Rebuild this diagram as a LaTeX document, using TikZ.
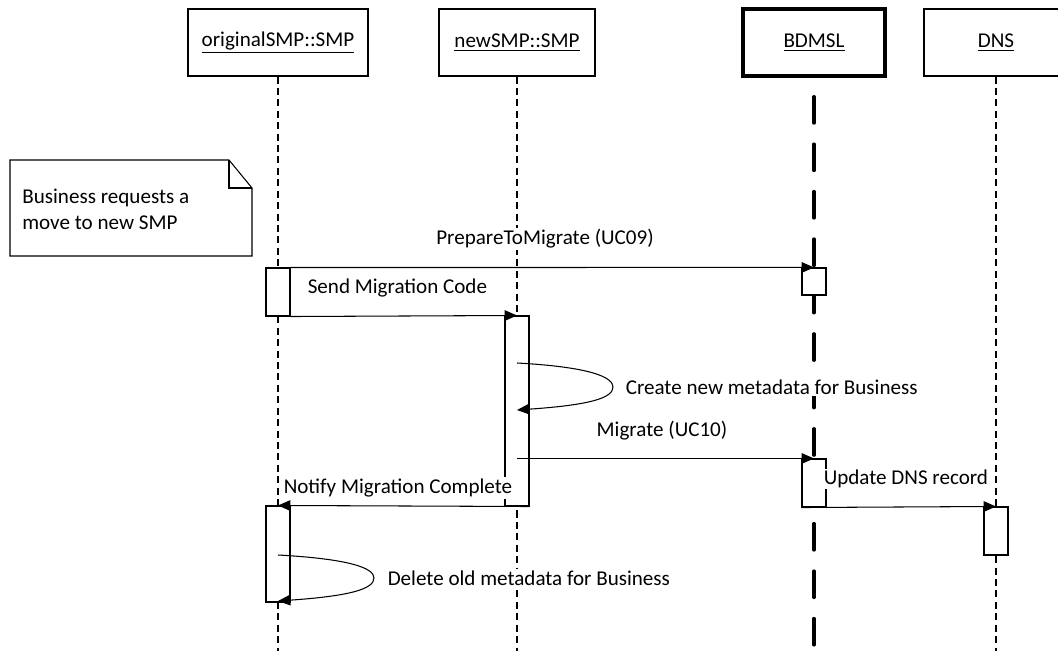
\documentclass[tikz,border=0pt]{standalone}
\usepackage{fontspec}
\setmainfont{Carlito}
\usetikzlibrary{arrows.meta}

\tikzset{
    headbox/.style={draw, minimum height=1.34cm, line width=0.6pt},
    actbox/.style={draw, fill=white, minimum width=0.48cm, inner sep=0pt, line width=0.6pt},
    msg/.style={line width=0.6pt, -{Triangle[length=7pt,width=6pt]}},
    lifeline/.style={line width=0.6pt, dash pattern=on 4pt off 2.5pt},
    lbl/.style={inner sep=0.8pt, fill=white},
}

\begin{document}
\begin{tikzpicture}[x=0.02cm, y=-0.02cm, font=\fontsize{12}{14.4}\selectfont]

    % Picture frame
    \clip (0,0) rectangle (1058,651);
    \coordinate (bottom) at (0,651);

    % Draw the header boxes
    \node[headbox, minimum width=3.6cm] (origbox) at (278,42.5) {\underline{originalSMP::SMP}};
    \node[headbox, minimum width=3.12cm] (newbox) at (517,42.5) {\underline{newSMP::SMP}};
    \node[headbox, minimum width=2.85cm, line width=2.2pt] (bdmslbox) at (814,42.5) {\underline{BDMSL}};
    \node[headbox, minimum width=2.88cm] (dnsbox) at (996,42.5) {\underline{DNS}};

    % Draw the lifelines
    \draw[lifeline] (origbox.south) -- (origbox.south |- bottom);
    \draw[lifeline] (newbox.south) -- (newbox.south |- bottom);
    \draw[lifeline] (dnsbox.south) -- (dnsbox.south |- bottom);
    \coordinate (bdmsltop) at (814,96.7);
    \draw[line width=1.9pt, line cap=round, dash pattern=on 15pt off 12pt] (bdmsltop) -- (bdmsltop |- bottom); % Thick lifeline

    % Note
    \draw[line width=0.6pt] (10,160) -- (229,160) -- (252,188) -- (252,256) -- (10,256) -- cycle;
    \draw[line width=0.6pt] (229,160) -- (229,188) -- (252,188); % Folded corner
    \node[inner sep=0pt, anchor=north west, align=left] (notetext) at (22,189) {Business requests a\\move to new SMP};

    % Draw the activation boxes
    \node[actbox, minimum height=0.96cm] (origact1) at (278,292) {};
    \node[actbox, minimum height=0.54cm] (bdmslact1) at (814,281.5) {};
    \node[actbox, minimum height=3.8cm] (newact) at (517,411) {};
    \node[actbox, minimum height=0.96cm] (bdmslact2) at (814,483) {};
    \node[actbox, minimum height=1.92cm] (origact2) at (278,554) {};
    \node[actbox, minimum height=0.96cm] (dnsact) at (996,531) {};

    % Messages
    \draw[msg] (origact1.north east) -- (bdmslact1.north);
    \node[lbl] (preplabel) at (545,239) {PrepareToMigrate (UC09)};

    \draw[msg] (origact1.south east) -- (newact.north);
    \node[lbl, anchor=west] (sendlabel) at (306,288) {Send Migration Code};

    % Self message on newSMP
    \coordinate (createstart) at (517,363);
    \coordinate (createend) at (517,410);
    \draw[msg] (createstart) .. controls (590,367) and (613,377) .. (613,387)
        .. controls (613,398) and (590,405) .. (createend);
    \node[lbl, anchor=west] (createlabel) at (624,387) {Create new metadata for Business};

    \coordinate (migstart) at (newact.center |- bdmslact2.north);
    \draw[msg] (migstart) -- (bdmslact2.north);
    \node[lbl] (miglabel) at (662,431) {Migrate (UC10)};

    \draw[msg] (bdmslact2.south west) -- (dnsact.north);
    \node[lbl, anchor=west] (dnslabel) at (822,479) {Update DNS record};

    \draw[msg] (newact.south east) -- (origact2.north);
    \node[lbl, anchor=west] (notifylabel) at (282,488) {Notify Migration Complete};

    % Self message on originalSMP
    \coordinate (deletestart) at (278,555);
    \coordinate (deleteend) at (278,601);
    \draw[msg] (deletestart) .. controls (350,559) and (374,568) .. (374,578)
        .. controls (374,589) and (350,596) .. (deleteend);
    \node[lbl, anchor=west] (deletelabel) at (386,578) {Delete old metadata for Business};

\end{tikzpicture}
\end{document}
